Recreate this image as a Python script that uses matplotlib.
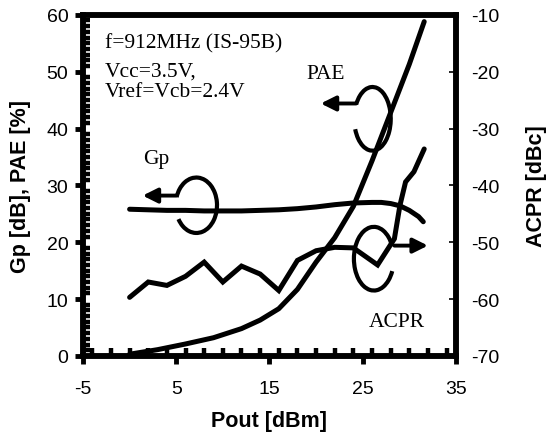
import matplotlib
matplotlib.use("Agg")
import matplotlib.pyplot as plt
from matplotlib.patches import Arc
from matplotlib.ticker import MultipleLocator
import numpy as np

plt.rcParams['axes.unicode_minus'] = False
plt.rcParams['font.family'] = 'Liberation Sans'

## values
pout_gp = [0, 2, 4, 6, 8, 10, 12, 14, 16, 18, 20, 22, 24, 26, 27, 28, 29, 30, 31, 31.5]
gp = [25.8, 25.7, 25.6, 25.6, 25.5, 25.5, 25.5, 25.6, 25.7, 25.9, 26.2, 26.6, 26.9, 27.0,
      27.0, 26.8, 26.4, 25.6, 24.5, 23.6]

pout_pae = [0, 3, 6, 9, 12, 14, 16, 18, 20, 22, 24, 26, 28, 30, 31.6]
pae = [0.3, 1.1, 2.1, 3.2, 4.8, 6.3, 8.3, 11.7, 16.5, 20.8, 26.3, 34.3, 42.8, 51.3, 58.8]

pout_acpr = [0, 2, 4, 6, 8, 10, 12, 14, 16, 18, 20, 22, 24, 26.6, 28.4, 29, 29.6, 30.5, 31.6]
acpr = [-59.7, -57.0, -57.6, -56.0, -53.5, -57.0, -54.2, -55.6, -58.5, -53.2, -51.5,
        -50.9, -51.0, -54.0, -49.4, -43.5, -39.4, -37.6, -33.6]

x_ticks = [-5, 5, 15, 25, 35]
left_ticks = [0, 10, 20, 30, 40, 50, 60]
right_ticks = [-70, -60, -50, -40, -30, -20, -10]

notes = ['f=912MHz (IS-95B)', 'Vcc=3.5V,', 'Vref=Vcb=2.4V']


def loop(ax, cx, cy, w, h, t1, t2):
    ## t1, t2 are angles around the ellipse as seen on screen;
    ## Arc wants them in data units, so undo its stretch
    g1 = np.degrees(np.arctan2(h * np.sin(np.radians(t1)), w * np.cos(np.radians(t1))))
    g2 = np.degrees(np.arctan2(h * np.sin(np.radians(t2)), w * np.cos(np.radians(t2))))
    ax.add_patch(Arc((cx, cy), w, h, theta1=g1, theta2=g2, color='black', lw=3))


fig = plt.figure(figsize=(5.46, 4.39), dpi=100)
ax = fig.add_axes([0.152, 0.187, 0.683, 0.777])
ax2 = ax.twinx()

lw = 3.6
ax.plot(pout_gp, gp, color='black', lw=lw, solid_capstyle='round', solid_joinstyle='round')
ax.plot(pout_pae, pae, color='black', lw=lw, solid_capstyle='round', solid_joinstyle='round')
ax2.plot(pout_acpr, acpr, color='black', lw=lw, solid_capstyle='round', solid_joinstyle='miter')

ax.set_xlim(-5, 35)
ax.set_ylim(0, 60)
ax2.set_ylim(-70, -10)
ax.set_xticks(x_ticks)
ax.set_yticks(left_ticks)
ax2.set_yticks(right_ticks)
ax.xaxis.set_minor_locator(MultipleLocator(2))
ax.yaxis.set_minor_locator(MultipleLocator(1))

for a in (ax, ax2):
    for s in a.spines.values():
        s.set_linewidth(4)

ax.tick_params(axis='x', which='major', direction='out', length=5.5, width=3.5,
               labelsize=14, pad=12, top=False)
ax.tick_params(axis='x', which='minor', direction='in', length=5.5, width=3.2, top=False)
ax.tick_params(axis='y', which='major', direction='out', length=5.5, width=3.5,
               labelsize=14, pad=5, right=False)
ax.tick_params(axis='y', which='minor', direction='in', length=5, width=3.2, right=False)
ax2.tick_params(axis='y', which='major', direction='in', length=5, width=1.2,
                labelsize=14, pad=11)

ax.set_xlabel('Pout [dBm]', fontsize=15.5, fontweight='bold', va='center')
ax.xaxis.set_label_coords(0.5, -0.19)
ax.set_ylabel('Gp [dB], PAE [%]', fontsize=15.5, fontweight='bold', va='center')
ax.yaxis.set_label_coords(-0.168, 0.5)
ax2.set_ylabel('ACPR [dBc]', fontsize=15.5, fontweight='bold', va='center', rotation=90)
ax2.yaxis.set_label_coords(1.215, 0.5)

## text notes
serif = 'Liberation Serif'
for txt, yy in zip(notes, [54.2, 49.3, 45.8]):
    ax.text(-2.65, yy, txt, family=serif, fontsize=15.5, va='baseline')
ax.text(18.96, 48.8, 'PAE', family=serif, fontsize=15.5, va='baseline')
ax.text(1.5, 34.0, 'Gp', family=serif, fontsize=15.5, va='baseline')
ax.text(25.7, 5.3, 'ACPR', family=serif, fontsize=15.5, va='baseline')

## curly markers and arrows
arrow = dict(arrowstyle='-|>', color='black', lw=2.8, mutation_scale=22, shrinkA=0, shrinkB=0)
loop(ax, 7.16, 26.5, 4.43, 9.75, -150, 163)
ax.annotate('', xy=(1.4, 28.2), xytext=(5.0, 28.2), arrowprops=arrow)

loop(ax, 26.05, 41.7, 3.92, 11.2, -161, 153)
ax.annotate('', xy=(20.5, 44.4), xytext=(24.3, 44.4), arrowprops=arrow)

loop(ax, 26.2, 17.1, 4.28, 11.2, 23, 337)
ax.annotate('', xy=(32.0, 19.4), xytext=(28.4, 19.4), arrowprops=arrow)

plt.savefig('out.png', dpi=100)
plt.close()
